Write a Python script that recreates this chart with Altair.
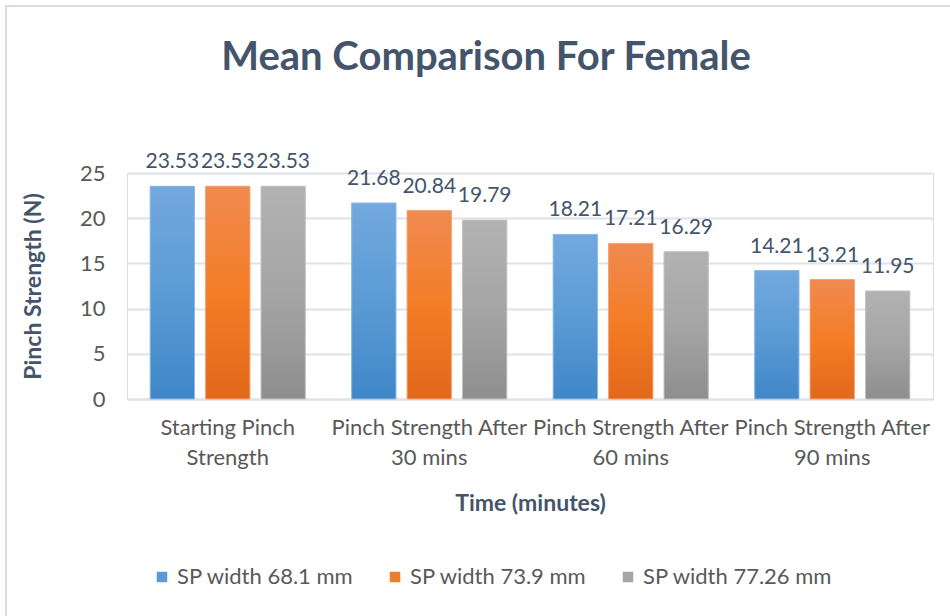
import altair as alt
import pandas as pd

# Time points (x categories) and pinch-span series
categories = [
    "Starting Pinch Strength",
    "Pinch Strength After 30 mins",
    "Pinch Strength After 60 mins",
    "Pinch Strength After 90 mins",
]
series = ["SP width 68.1 mm", "SP width 73.9 mm", "SP width 77.26 mm"]
sp_68_1 = [23.53, 21.68, 18.21, 14.21]
sp_73_9 = [23.53, 20.84, 17.21, 13.21]
sp_77_26 = [23.53, 19.79, 16.29, 11.95]

solid_colors = ["#5b9bd5", "#ed7d31", "#a5a5a5"]
gradient_stops = [
    ("#72a9de", "#5b9bd5", "#3f87c8"),
    ("#f08a50", "#f47d26", "#e2681a"),
    ("#b2b2b2", "#a5a5a5", "#8e8e8e"),
]
edge_colors = ["#8dbbe6", "#f4a477", "#c4c4c4"]

rows = []
for s, vals in zip(series, [sp_68_1, sp_73_9, sp_77_26]):
    for c, v in zip(categories, vals):
        rows.append({"time": c, "series": s, "value": v})
df = pd.DataFrame(rows)

FONT = "Lato"
TEXT_DARK = "#44546a"
TEXT_GRAY = "#595959"

x_enc = alt.X(
    "time:N",
    sort=categories,
    scale=alt.Scale(paddingInner=0.23, paddingOuter=0.115),
    axis=alt.Axis(
        title="Time (minutes)",
        labelExpr=(
            "datum.label == 'Starting Pinch Strength' ? ['Starting Pinch', 'Strength'] "
            ": [slice(datum.label, 0, 20), slice(datum.label, 21)]"
        ),
        labelAngle=0,
        labelPadding=18,
        labelLineHeight=30,
        labelFontSize=22,
        labelColor=TEXT_GRAY,
        labelFont=FONT,
        labelOverlap=False,
        labelLimit=0,
        ticks=False,
        domain=True,
        domainColor="#dfe2e8",
        domainWidth=2,
        titleFont=FONT,
        titleFontSize=23,
        titleFontWeight="bold",
        titleColor=TEXT_DARK,
        titleX=403,
        titleY=104,
        titleBaseline="middle",
    ),
)
xoff_enc = alt.XOffset(
    "series:N",
    sort=series,
    scale=alt.Scale(domain=series, paddingInner=0.2, paddingOuter=0),
)
y_enc = alt.Y(
    "value:Q",
    scale=alt.Scale(domain=[0, 25]),
    axis=alt.Axis(
        title="Pinch Strength (N)",
        values=[0, 5, 10, 15, 20, 25],
        grid=True,
        gridColor="#dfe2e8",
        gridWidth=2,
        domain=False,
        ticks=False,
        labelPadding=22,
        labelFontSize=22,
        labelColor=TEXT_GRAY,
        labelFont=FONT,
        titleFont=FONT,
        titleFontSize=23,
        titleFontWeight="bold",
        titleColor=TEXT_DARK,
        titleX=-94,
        titleY=113,
        titleAngle=-90,
        titleBaseline="middle",
    ),
)

base = alt.Chart(df)

solid_bars = base.mark_bar().encode(
    x=x_enc,
    xOffset=xoff_enc,
    y=y_enc,
    color=alt.Color(
        "series:N",
        sort=series,
        scale=alt.Scale(domain=series, range=solid_colors),
        legend=alt.Legend(
            title=None,
            orient="none",
            legendX=24,
            legendY=393,
            direction="horizontal",
            symbolType="square",
            symbolSize=110,
            symbolStrokeWidth=0,
            labelFont=FONT,
            labelFontSize=22,
            labelColor=TEXT_GRAY,
            labelLimit=0,
            columnPadding=30,
            labelOffset=4,
        ),
    ),
)

gradient_layers = []
for s, (top, mid, bottom), edge in zip(series, gradient_stops, edge_colors):
    grad = alt.LinearGradient(
        gradient="linear",
        stops=[
            alt.GradientStop(color=top, offset=0),
            alt.GradientStop(color=mid, offset=0.5),
            alt.GradientStop(color=bottom, offset=1),
        ],
        x1=0, x2=0, y1=0, y2=1,
    )
    gradient_layers.append(
        base.transform_filter(alt.datum.series == s)
        .mark_bar(fill=grad, stroke=edge, strokeWidth=1)
        .encode(x=x_enc, xOffset=xoff_enc, y=y_enc)
    )

labels = base.mark_text(
    baseline="alphabetic",
    dy=-18,
    font=FONT,
    fontSize=21,
    color=TEXT_DARK,
).encode(
    x=x_enc,
    xOffset=xoff_enc,
    y=y_enc,
    text=alt.Text("value:Q", format=".2f"),
)

# Thin frame lines along the top and left edges of the chart area
frame_df = pd.DataFrame({"k": [0]})
frame_top = alt.Chart(frame_df).mark_rule(color="#dadde3", strokeWidth=2).encode(
    x=alt.value(-122), x2=alt.value(823), y=alt.value(-167)
)
frame_left = alt.Chart(frame_df).mark_rule(color="#dadde3", strokeWidth=2).encode(
    x=alt.value(-121), y=alt.value(-168), y2=alt.value(443)
)

chart = (
    alt.layer(solid_bars, *gradient_layers, labels, frame_top, frame_left)
    .properties(
        width=806,
        height=226,
        title=alt.TitleParams(
            "Mean Comparison For Female",
            font=FONT,
            fontSize=40,
            fontWeight="bold",
            color=TEXT_DARK,
            anchor="middle",
            frame="group",
            dx=-44,
            baseline="alphabetic",
            offset=-106,
        ),
        autosize=alt.AutoSizeParams(type="none"),
        padding={"left": 127, "top": 173, "right": 17, "bottom": 217},
    )
    .configure_view(stroke=None)
    .configure(background="white")
)

chart.save("out.html", embed_options={"renderer": "svg", "actions": False})
